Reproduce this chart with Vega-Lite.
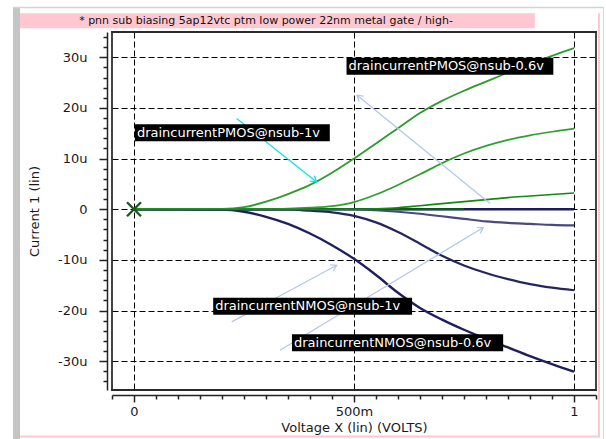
{
  "$schema": "https://vega.github.io/schema/vega-lite/v6.json",
  "width": 484,
  "height": 358,
  "autosize": "none",
  "padding": {"left": 112, "top": 32, "right": 10, "bottom": 49},
  "background": "white",
  "config": {
    "view": {"stroke": null},
    "axis": {
      "labelFont": "DejaVu Sans", "labelFontSize": 13, "labelColor": "#1a1a1a",
      "titleFont": "DejaVu Sans", "titleFontSize": 13, "titleFontWeight": "normal", "titleColor": "#1a1a1a",
      "domainColor": "#222222", "domainWidth": 1.5, "tickColor": "#222222", "tickWidth": 1.5,
      "gridColor": "#000000", "gridDash": [6, 3], "gridWidth": 1
    }
  },
  "datasets": {
    "deco": [
      {"kind": "pink", "x": -0.259, "x2": 0.911, "y": 38.7, "y2": 35.74},
      {"kind": "pink", "x": 1.0545, "x2": 1.059, "y": 38.7, "y2": -45.0},
      {"kind": "pink", "x": -0.259, "x2": 1.059, "y": -44.7, "y2": -45.1},
      {"kind": "grey", "x": -0.275, "x2": -0.259, "y": 39.9, "y2": -45.4},
      {"kind": "lgrey", "x": -0.275, "x2": 1.068, "y": 40.0, "y2": 39.7},
      {"kind": "lgrey", "x": 1.066, "x2": 1.068, "y": 40.0, "y2": -45.4},
      {"kind": "edge", "x": -0.052, "x2": 1.052, "y": 35.2, "y2": 34.8},
      {"kind": "edge", "x": -0.052, "x2": 1.052, "y": -35.5, "y2": -35.9},
      {"kind": "edge", "x": -0.052, "x2": -0.048, "y": 35.2, "y2": -35.9},
      {"kind": "edge", "x": 1.048, "x2": 1.052, "y": 35.2, "y2": -35.9}
    ],
    "title": [
      {"t": "* pnn sub biasing 5ap12vtc ptm low power 22nm metal gate / high-", "x": 0.3, "y": 37.1}
    ],
    "nmos": [
      {"s": "n0", "x": 0, "y": 0}, {"s": "n0", "x": 1, "y": 0},
      {"s": "na", "x": 0, "y": 0}, {"s": "na", "x": 0.2, "y": -0.05}, {"s": "na", "x": 0.25, "y": -0.5},
      {"s": "na", "x": 0.3, "y": -1.5}, {"s": "na", "x": 0.35, "y": -2.9}, {"s": "na", "x": 0.4, "y": -4.8},
      {"s": "na", "x": 0.45, "y": -7.1}, {"s": "na", "x": 0.5, "y": -9.8}, {"s": "na", "x": 0.55, "y": -13.0},
      {"s": "na", "x": 0.6, "y": -16.5}, {"s": "na", "x": 0.65, "y": -19.5}, {"s": "na", "x": 0.7, "y": -21.8},
      {"s": "na", "x": 0.75, "y": -23.8}, {"s": "na", "x": 0.8, "y": -25.6}, {"s": "na", "x": 0.85, "y": -27.3},
      {"s": "na", "x": 0.9, "y": -29.0}, {"s": "na", "x": 0.95, "y": -30.6}, {"s": "na", "x": 1.0, "y": -32.1},
      {"s": "nb", "x": 0, "y": 0}, {"s": "nb", "x": 0.35, "y": -0.05}, {"s": "nb", "x": 0.4, "y": -0.3},
      {"s": "nb", "x": 0.45, "y": -0.6}, {"s": "nb", "x": 0.5, "y": -1.3}, {"s": "nb", "x": 0.55, "y": -2.6},
      {"s": "nb", "x": 0.6, "y": -4.5}, {"s": "nb", "x": 0.65, "y": -6.8}, {"s": "nb", "x": 0.7, "y": -9.2},
      {"s": "nb", "x": 0.75, "y": -11.1}, {"s": "nb", "x": 0.8, "y": -12.6}, {"s": "nb", "x": 0.85, "y": -13.8},
      {"s": "nb", "x": 0.9, "y": -14.8}, {"s": "nb", "x": 0.95, "y": -15.5}, {"s": "nb", "x": 1.0, "y": -16.0},
      {"s": "nc", "x": 0, "y": 0}, {"s": "nc", "x": 0.5, "y": 0}, {"s": "nc", "x": 0.55, "y": -0.2},
      {"s": "nc", "x": 0.6, "y": -0.5}, {"s": "nc", "x": 0.65, "y": -0.9}, {"s": "nc", "x": 0.7, "y": -1.4},
      {"s": "nc", "x": 0.75, "y": -1.9}, {"s": "nc", "x": 0.8, "y": -2.4}, {"s": "nc", "x": 0.85, "y": -2.7},
      {"s": "nc", "x": 0.9, "y": -2.9}, {"s": "nc", "x": 0.95, "y": -3.1}, {"s": "nc", "x": 1.0, "y": -3.2}
    ],
    "pmos": [
      {"s": "p0", "x": 0, "y": 0}, {"s": "p0", "x": 0.75, "y": 0},
      {"s": "pa", "x": 0, "y": 0}, {"s": "pa", "x": 0.2, "y": 0.05}, {"s": "pa", "x": 0.25, "y": 0.4},
      {"s": "pa", "x": 0.3, "y": 1.5}, {"s": "pa", "x": 0.35, "y": 3.0}, {"s": "pa", "x": 0.4, "y": 4.8},
      {"s": "pa", "x": 0.45, "y": 7.2}, {"s": "pa", "x": 0.5, "y": 10.0}, {"s": "pa", "x": 0.55, "y": 13.0},
      {"s": "pa", "x": 0.6, "y": 16.0}, {"s": "pa", "x": 0.65, "y": 19.0}, {"s": "pa", "x": 0.7, "y": 21.4},
      {"s": "pa", "x": 0.75, "y": 23.4}, {"s": "pa", "x": 0.8, "y": 25.2}, {"s": "pa", "x": 0.85, "y": 27.0},
      {"s": "pa", "x": 0.9, "y": 28.7}, {"s": "pa", "x": 0.95, "y": 30.3}, {"s": "pa", "x": 1.0, "y": 31.8},
      {"s": "pb", "x": 0, "y": 0}, {"s": "pb", "x": 0.3, "y": 0}, {"s": "pb", "x": 0.35, "y": 0.1},
      {"s": "pb", "x": 0.4, "y": 0.3}, {"s": "pb", "x": 0.45, "y": 0.6}, {"s": "pb", "x": 0.5, "y": 1.4},
      {"s": "pb", "x": 0.55, "y": 2.9}, {"s": "pb", "x": 0.6, "y": 4.8}, {"s": "pb", "x": 0.65, "y": 6.9},
      {"s": "pb", "x": 0.7, "y": 9.1}, {"s": "pb", "x": 0.75, "y": 11.0}, {"s": "pb", "x": 0.8, "y": 12.5},
      {"s": "pb", "x": 0.85, "y": 13.7}, {"s": "pb", "x": 0.9, "y": 14.6}, {"s": "pb", "x": 0.95, "y": 15.3},
      {"s": "pb", "x": 1.0, "y": 15.9},
      {"s": "pc", "x": 0, "y": 0}, {"s": "pc", "x": 0.5, "y": 0}, {"s": "pc", "x": 0.55, "y": 0.1},
      {"s": "pc", "x": 0.6, "y": 0.3}, {"s": "pc", "x": 0.65, "y": 0.7}, {"s": "pc", "x": 0.7, "y": 1.1},
      {"s": "pc", "x": 0.75, "y": 1.5}, {"s": "pc", "x": 0.8, "y": 1.9}, {"s": "pc", "x": 0.85, "y": 2.3},
      {"s": "pc", "x": 0.9, "y": 2.6}, {"s": "pc", "x": 0.95, "y": 2.9}, {"s": "pc", "x": 1.0, "y": 3.2}
    ],
    "arrows": [
      {"id": "a1", "x": 0.2334, "y": 17.91}, {"id": "a1", "x": 0.4152, "y": 5.39},
      {"id": "a2", "x": 0.8091, "y": 1.13}, {"id": "a2", "x": 0.5068, "y": 22.51},
      {"id": "a3", "x": 0.2220, "y": -22.25}, {"id": "a3", "x": 0.4607, "y": -11.06},
      {"id": "a4", "x": 0.3318, "y": -27.84}, {"id": "a4", "x": 0.7939, "y": -3.61}
    ],
    "heads": [
      {"id": "a1", "x": 0.4152, "y": 5.39, "ang": 128},
      {"id": "a2", "x": 0.5068, "y": 22.51, "ang": 309},
      {"id": "a3", "x": 0.4607, "y": -11.06, "ang": 62},
      {"id": "a4", "x": 0.7939, "y": -3.61, "ang": 59}
    ],
    "marker": [{"x": 0, "y": 0}],
    "labels": [
      {"label": "draincurrentPMOS@nsub-0.6v", "x": 0.483, "x2": 0.953, "y": 29.92, "y2": 26.56, "yc": 28.24},
      {"label": "draincurrentPMOS@nsub-1v", "x": 0.002, "x2": 0.445, "y": 16.79, "y2": 13.43, "yc": 15.11},
      {"label": "draincurrentNMOS@nsub-1v", "x": 0.18, "x2": 0.632, "y": -17.47, "y2": -20.83, "yc": -19.15},
      {"label": "draincurrentNMOS@nsub-0.6v", "x": 0.359, "x2": 0.839, "y": -24.68, "y2": -28.04, "yc": -26.36}
    ]
  },
  "encoding": {
    "x": {
      "field": "x", "type": "quantitative",
      "scale": {"domain": [-0.05, 1.05], "nice": false, "zero": false},
      "axis": {
        "title": "Voltage X (lin) (VOLTS)",
        "offset": 5,
        "values": [-0.05, 0, 0.05, 0.1, 0.15, 0.2, 0.25, 0.3, 0.35, 0.4, 0.45, 0.5, 0.55, 0.6, 0.65, 0.7, 0.75, 0.8, 0.85, 0.9, 0.95, 1, 1.05],
        "labelExpr": "abs(datum.value) < 0.001 ? '0' : abs(datum.value - 0.5) < 0.001 ? '500m' : abs(datum.value - 1) < 0.001 ? '1' : ''",
        "tickSize": {"condition": {"test": "abs(datum.value*2 - round(datum.value*2)) < 0.001", "value": 7}, "value": 4},
        "gridOpacity": {"condition": {"test": "abs(datum.value*2 - round(datum.value*2)) < 0.001 && datum.value > -0.01 && datum.value < 1.01", "value": 1}, "value": 0},
        "labelPadding": 3,
        "titlePadding": 3,
        "labelFlush": false,
        "labelOverlap": false
      }
    },
    "y": {
      "field": "y", "type": "quantitative",
      "scale": {"domain": [-35.7, 35], "nice": false, "zero": false},
      "axis": {
        "title": "Current 1 (lin)",
        "offset": 5,
        "values": [-34, -32, -30, -28, -26, -24, -22, -20, -18, -16, -14, -12, -10, -8, -6, -4, -2, 0, 2, 4, 6, 8, 10, 12, 14, 16, 18, 20, 22, 24, 26, 28, 30, 32, 34],
        "labelExpr": "datum.value % 10 === 0 ? (datum.value === 0 ? '0' : datum.value + 'u') : ''",
        "tickSize": {"condition": {"test": "datum.value % 10 === 0", "value": 8}, "value": 4},
        "gridOpacity": {"condition": {"test": "datum.value % 10 === 0", "value": 1}, "value": 0},
        "labelPadding": 12,
        "titlePadding": 16,
        "labelOverlap": false
      }
    }
  },
  "layer": [
    {
      "data": {"name": "deco"},
      "mark": {"type": "rect", "clip": false},
      "encoding": {
        "x2": {"field": "x2"},
        "y2": {"field": "y2"},
        "fill": {"field": "kind", "type": "nominal", "scale": {"domain": ["pink", "grey", "lgrey", "edge"], "range": ["#ffc7d0", "#c4c4c4", "#d4d4d4", "#2a2a2a"]}, "legend": null}
      }
    },
    {
      "data": {"name": "title"},
      "mark": {"type": "text", "font": "DejaVu Sans", "fontSize": 11, "color": "#111111", "align": "center", "baseline": "middle", "clip": false},
      "encoding": {"text": {"field": "t"}}
    },
    {
      "data": {"name": "nmos"},
      "mark": {"type": "line", "interpolate": "monotone"},
      "encoding": {
        "detail": {"field": "s"},
        "stroke": {"field": "s", "type": "nominal", "scale": {"domain": ["n0", "na", "nb", "nc", "p0", "pa", "pb", "pc"], "range": ["#1c1c5a", "#1f1f5e", "#26265f", "#4a4a82", "#0c640c", "#2c9c2c", "#2f9f2f", "#128a12"]}, "legend": null},
        "strokeWidth": {"field": "s", "type": "nominal", "scale": {"domain": ["n0", "na", "nb", "nc", "p0", "pa", "pb", "pc"], "range": [2.5, 1.6, 1.6, 1.6, 2.5, 1.6, 1.6, 3]}, "legend": null}
      }
    },
    {
      "data": {"name": "pmos"},
      "mark": {"type": "line", "interpolate": "monotone"},
      "encoding": {
        "detail": {"field": "s"},
        "stroke": {"field": "s", "type": "nominal", "scale": {"domain": ["n0", "na", "nb", "nc", "p0", "pa", "pb", "pc"], "range": ["#1c1c5a", "#1f1f5e", "#26265f", "#4a4a82", "#0c640c", "#2c9c2c", "#2f9f2f", "#128a12"]}, "legend": null},
        "strokeWidth": {"field": "s", "type": "nominal", "scale": {"domain": ["n0", "na", "nb", "nc", "p0", "pa", "pb", "pc"], "range": [2.5, 1.6, 1.6, 1.6, 2.5, 1.6, 1.6, 3]}, "legend": null}
      }
    },
    {
      "data": {"name": "arrows"},
      "transform": [{"filter": "datum.id === 'a1'"}],
      "mark": {"type": "line", "color": "#00e3f0", "strokeWidth": 1.2},
      "encoding": {"detail": {"field": "id"}}
    },
    {
      "data": {"name": "arrows"},
      "transform": [{"filter": "datum.id !== 'a1'"}],
      "mark": {"type": "line", "color": "#b2c6ea", "strokeWidth": 1.2},
      "encoding": {"detail": {"field": "id"}}
    },
    {
      "data": {"name": "heads"},
      "mark": {"type": "point", "shape": "M -0.6 1 L 0 0 L 0.6 1", "filled": false, "size": 130, "strokeWidth": 1.2, "opacity": 1},
      "encoding": {
        "angle": {"field": "ang", "type": "quantitative", "scale": null},
        "stroke": {"condition": {"test": "datum.id === 'a1'", "value": "#00e3f0"}, "value": "#b2c6ea"}
      }
    },
    {
      "data": {"name": "marker"},
      "mark": {"type": "point", "shape": "M -1 -1 L 1 1 M -1 1 L 1 -1", "filled": false, "size": 196, "strokeWidth": 2.4, "color": "#1a5a1a", "opacity": 1}
    },
    {
      "data": {"name": "labels"},
      "mark": {"type": "rect", "color": "#000000"},
      "encoding": {"x2": {"field": "x2"}, "y2": {"field": "y2"}}
    },
    {
      "data": {"name": "labels"},
      "mark": {"type": "text", "font": "DejaVu Sans", "fontSize": 13, "color": "#ffffff", "align": "left", "baseline": "middle", "dx": 2},
      "encoding": {"y": {"field": "yc", "type": "quantitative"}, "text": {"field": "label"}}
    }
  ]
}
